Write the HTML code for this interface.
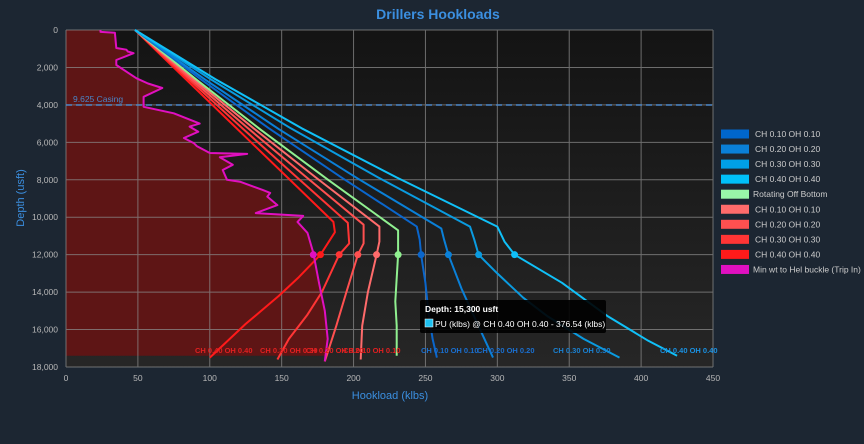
<!DOCTYPE html>
<html><head><meta charset="utf-8"><style>
body{margin:0;background:#1c2632;width:864px;height:439px;overflow:hidden;font-family:"Liberation Sans",sans-serif}
</style></head><body>
<svg id="s" width="864" height="439" xmlns="http://www.w3.org/2000/svg" font-family="Liberation Sans, sans-serif">
<defs><linearGradient id="bg" x1="0" y1="0" x2="0" y2="1"><stop offset="0" stop-color="#141414"/><stop offset="1" stop-color="#262626"/></linearGradient></defs>
<rect x="0" y="0" width="864" height="439" fill="#1c2632"/>
<rect x="66" y="30" width="647" height="337" fill="url(#bg)"/>
<g id="fill"></g>
<g id="grid" stroke="#8a8a8a" stroke-width="1" opacity="0.75"></g>
<line x1="66" y1="105" x2="713" y2="105" stroke="#4a86c8" stroke-width="1.5" stroke-dasharray="6,4"/>
<text x="73" y="102" fill="#4a86c8" font-size="8.5">9.625 Casing</text>
<g id="lines" fill="none" stroke-width="2"></g>
<g id="ticks" fill="#b8b8b8" font-size="8.5"></g>
<text x="438" y="19" fill="#3b8fe0" font-size="14" font-weight="bold" text-anchor="middle">Drillers Hookloads</text>
<text x="390" y="399" fill="#3b8fe0" font-size="11" text-anchor="middle">Hookload (klbs)</text>
<text transform="translate(24,198) rotate(-90)" fill="#3b8fe0" font-size="11" text-anchor="middle">Depth (usft)</text>
<g font-size="7.5" font-weight="bold">
<text x="195" y="353" fill="#e02020">CH 0.40 OH 0.40</text>
<text x="260" y="353" fill="#e02020">CH 0.30 OH 0.30</text>
<text x="306" y="353" fill="#e02020">CH 0.20 OH 0.20</text>
<text x="343" y="353" fill="#e02020">CH 0.10 OH 0.10</text>
<text x="421" y="353" fill="#1a6fd0">CH 0.10 OH 0.10</text>
<text x="477" y="353" fill="#1a6fd0">CH 0.20 OH 0.20</text>
<text x="553" y="353" fill="#1a80d0">CH 0.30 OH 0.30</text>
<text x="660" y="353" fill="#1a90e0">CH 0.40 OH 0.40</text>
</g>
<g>
<rect x="420" y="300" width="186" height="33" rx="2" fill="#000" opacity="0.9"/>
<text x="425" y="312" fill="#fff" font-size="8.5" font-weight="bold">Depth: 15,300 usft</text>
<rect x="425" y="319" width="8" height="8" fill="#1ec0f0" stroke="#fff" stroke-width="0.5"/>
<text x="435" y="327" fill="#fff" font-size="8.5">PU (klbs) @ CH 0.40 OH 0.40 - 376.54 (klbs)</text>
</g>
<g id="legend" font-size="8.5" fill="#ccc"></g>
</svg>
<script>
const X=v=>66+v*647/450, Y=d=>30+d*337/18000;
const ns="http://www.w3.org/2000/svg";
function el(p,t,a,txt){const e=document.createElementNS(ns,t);for(const k in a)e.setAttribute(k,a[k]);if(txt!=null)e.textContent=txt;document.getElementById(p).appendChild(e);return e;}
for(let v=0;v<=450;v+=50){el('grid','line',{x1:X(v),y1:30,x2:X(v),y2:367});el('ticks','text',{x:X(v),y:381,'text-anchor':'middle'},v);}
for(let d=0;d<=18000;d+=2000){el('grid','line',{x1:66,y1:Y(d),x2:713,y2:Y(d)});el('ticks','text',{x:58,y:Y(d)+3,'text-anchor':'end'},d.toLocaleString('en-US'));}
const mag=[[24,0],[24,100],[34,150],[35,960],[42,1050],[43,1150],[47,1240],[35,1600],[35,1870],[49,2580],[57,2860],[67,3100],[54,3570],[54,4100],[75,4450],[93,5000],[86,5160],[92,5430],[82,5770],[89,6050],[91,6200],[100,6570],[126,6620],[107,6800],[116,7200],[109,7480],[112,8000],[121,8100],[137,8550],[142,8700],[140,8900],[147,9350],[132,9780],[165,9930],[161,10250],[168,10840],[172,11900],[176,13500],[180,15000],[182,16500],[180,17700]];
let fp="M"+X(0)+","+Y(0);mag.forEach(p=>fp+=" L"+X(p[0])+","+Y(Math.min(p[1],17400)));fp+=" L"+X(0)+","+Y(17400)+"Z";
el('fill','path',{d:fp,fill:'#5e1515'});
const knees=[[186,10250],[196,10300],[207,10400],[218,10500],[231,10700],[244,10500],[261,10600],[281,10500],[300,10500]];
const tails=[
[[187,10800],[177,12000],[162,13200],[148,14200],[125,15700],[100,17500]],
[[197,11400],[190,12000],[178,14000],[168,15200],[155,16500],[147,17600]],
[[207,11400],[203,12000],[195,14000],[188,15800],[180,17700]],
[[218,11300],[216,12000],[210,14000],[206,15800],[205,17600]],
[[231,11200],[231,12000],[229,14500],[230,15800],[230,17400]],
[[246,11200],[247,12000],[250,13500],[252,15000],[255,16500],[258,17500]],
[[263,11200],[266,12000],[275,13800],[285,15500],[297,17500]],
[[284,11200],[287,12000],[300,13000],[318,14300],[335,15300],[360,16500],[385,17500]],
[[305,11300],[312,12000],[345,13500],[377,15300],[405,16600],[425,17400]]];
const cols=['#ff1a1a','#ff3535','#ff5050','#ff6b6b','#90f090','#0a66cc','#0a80d8','#0a9be0','#10c0f8'];
const S=[];
for(let i=0;i<9;i++){const k=knees[i];const f=t=>[48+(k[0]-48)*t- (k[0]-48)*0.04*i/8*Math.sin(Math.PI*t),k[1]*t];S.push([cols[i],[[48,0],f(0.25),f(0.5),f(0.75),k].concat(tails[i]),tails[i].find(p=>p[1]==12000)[0]]);}
S.push(['#e010c0',mag,172]);
S.forEach(s=>{let d="";s[1].forEach((p,i)=>d+=(i?" L":"M")+X(p[0]).toFixed(1)+","+Y(p[1]).toFixed(1));el('lines','path',{d:d,stroke:s[0],'stroke-linejoin':'round'});el('lines','circle',{cx:X(s[2]),cy:Y(12000),r:3.5,fill:s[0],stroke:'none'});});
const L=[['#0066cc','CH 0.10 OH 0.10'],['#0a80d8','CH 0.20 OH 0.20'],['#00a0e6','CH 0.30 OH 0.30'],['#00c0f8','CH 0.40 OH 0.40'],['#99f5a8','Rotating Off Bottom'],['#ff6b6b','CH 0.10 OH 0.10'],['#ff5050','CH 0.20 OH 0.20'],['#ff3535','CH 0.30 OH 0.30'],['#ff1a1a','CH 0.40 OH 0.40'],['#e010c0','Min wt to Hel buckle (Trip In)']];
L.forEach((l,i)=>{const y=134+i*15.05;el('legend','rect',{x:721,y:y-4.5,width:28,height:9,fill:l[0]});el('legend','text',{x:i==4||i==9?753:755,y:y+3},l[1]);});
</script>
</body></html>
